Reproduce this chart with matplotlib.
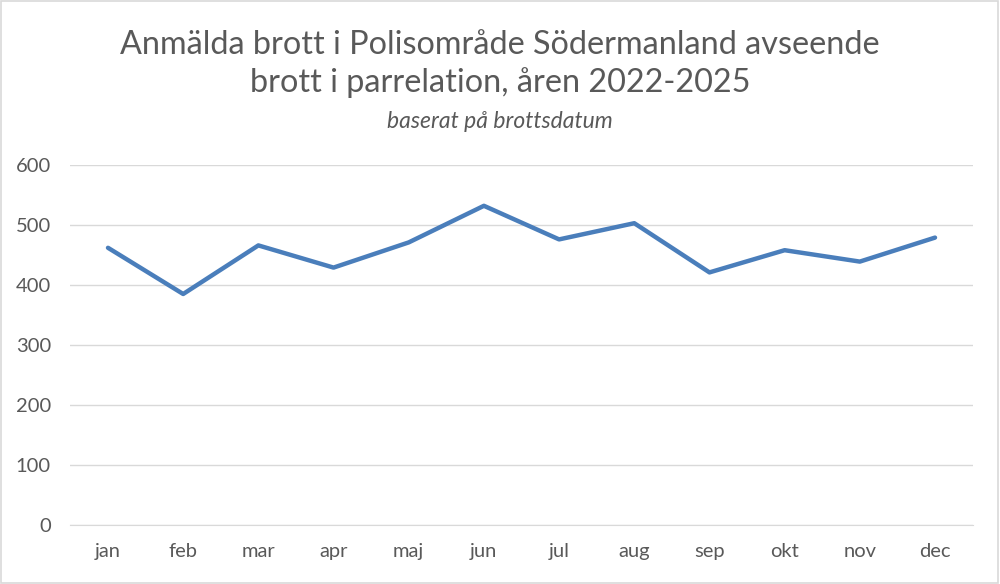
import matplotlib
matplotlib.use("Agg")
import matplotlib.pyplot as plt
from matplotlib.patches import Rectangle

months = ["jan", "feb", "mar", "apr", "maj", "jun", "jul", "aug", "sep", "okt", "nov", "dec"]
values = [462, 385, 466, 429, 471, 532, 476, 503, 421, 458, 439, 479]
yticks = [0, 100, 200, 300, 400, 500, 600]

title_line1 = "Anmälda brott i Polisområde Södermanland avseende"
title_line2 = "brott i parrelation, åren 2022-2025"
subtitle = "baserat på brottsdatum"

plt.rcParams['font.family'] = ['Lato', 'DejaVu Sans']
gray = "#595959"

fig = plt.figure(figsize=(10, 5.84), dpi=100)
ax = fig.add_axes([70.4/1000, 1 - 525/584, (972.6 - 70.4)/1000, 360/584])

x = list(range(len(months)))
ax.plot(x, values, color="#4A7EBB", lw=3.2, solid_joinstyle="round", solid_capstyle="round")
ax.set_xlim(-0.5, len(months) - 0.5)
ax.set_ylim(0, 600)
ax.set_yticks(yticks)
ax.set_xticks(x)
ax.set_xticklabels(months)
ax.grid(axis="y", color="#D9D9D9", lw=1)
ax.set_axisbelow(True)
for s in ["top", "right", "left"]:
    ax.spines[s].set_visible(False)
ax.spines["bottom"].set_color("#D9D9D9")
ax.tick_params(axis="both", length=0, colors=gray, labelsize=14.5)
ax.tick_params(axis="y", pad=14)
ax.tick_params(axis="x", pad=13)

fig.text(0.5, 1 - 45/584, title_line1, ha="center", va="center", fontsize=23.3, color=gray)
fig.text(0.5, 1 - 83/584, title_line2, ha="center", va="center", fontsize=23.3, color=gray)
fig.text(0.5, 1 - 121/584, subtitle, ha="center", va="center", fontsize=16.5, color=gray, style="italic")

fig.patches.append(Rectangle((0.001, 0.001), 0.997, 0.997, transform=fig.transFigure,
                             fill=False, edgecolor="#D9D9D9", lw=1.2))

fig.savefig("out.png", dpi=100)
